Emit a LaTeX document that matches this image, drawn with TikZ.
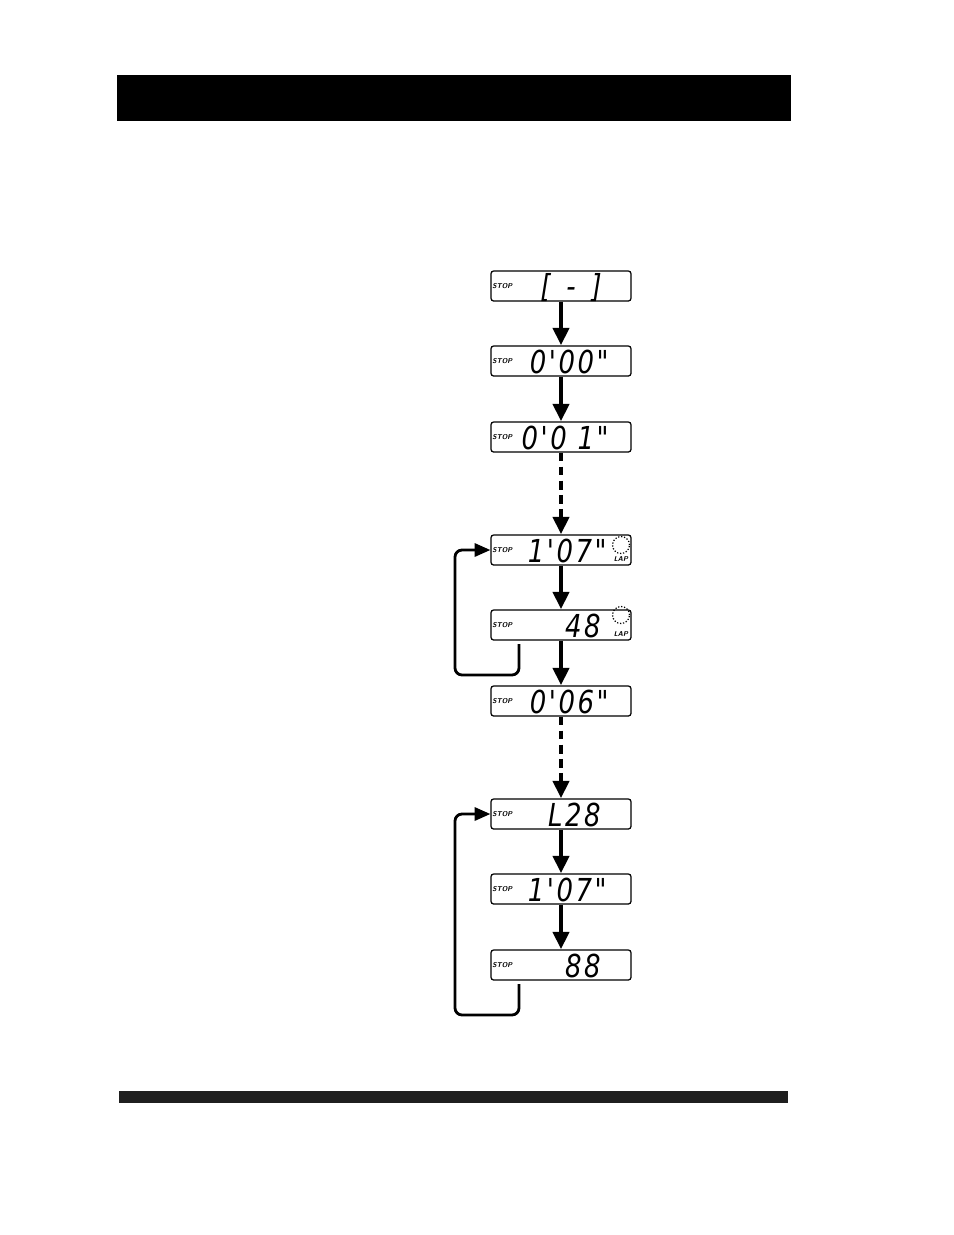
\documentclass[tikz,border=0pt]{standalone}
\usepackage{fontspec}
\newfontfamily\lcdfont[FakeStretch=0.82,LetterSpace=8]{DejaVu Sans}
\usetikzlibrary{arrows.meta,positioning}

\tikzset{
  lcd/.style={draw, line width=0.7pt, rounded corners=1.5pt, minimum width=2.8cm, minimum height=0.6cm, inner sep=0pt},
  digits/.style={font=\lcdfont\fontsize{18}{18}\selectfont\slshape, inner sep=0pt, anchor=base east},
  stoplbl/.style={font=\fontsize{4}{4}\selectfont\bfseries\itshape\sffamily, inner sep=0pt},
  flow/.style={line width=2.6pt, -{Triangle[length=10pt,width=9pt]}},
  skip/.style={flow, dash pattern=on 5pt off 3pt},
  loop/.style={line width=1.6pt, rounded corners=4pt, -{Triangle[length=9pt,width=7.5pt]}}
}

\begin{document}
\begin{tikzpicture}[x=0.02cm, y=-0.02cm]

        \useasboundingbox (0,0) rectangle (954,1235);

        % bars
        \fill (117,75) rectangle (791,121);
        \fill[black!88] (119,1091) rectangle (788,1103);

        \begin{scope}[every node/.style={lcd}]
          \node (d1) at (561,286) {};
          \node (d2) at (561,361) {};
          \node (d3) at (561,437) {};
          \node (d4) at (561,550) {};
          \node (d5) at (561,625) {};
          \node (d6) at (561,701) {};
          \node (d7) at (561,814) {};
          \node (d8) at (561,889) {};
          \node (d9) at (561,965) {};
        \end{scope}

        \foreach \d in {d1,d2,d3,d4,d5,d6,d7,d8,d9}
          \node[stoplbl] at ([xshift=0.24cm]\d.west) {STOP};

        \node[digits] at (602,297) {[\enspace-\enspace]};
        \node[digits] at (609,373) {0'00"};
        \node[digits] at (609,449) {0'0 1"};
        \node[digits] at (607,562) {1'07"};
        \node[digits] at (601,637) {48};
        \node[digits] at (609,713) {0'06"};
        \node[digits] at (601,826) {L28};
        \node[digits] at (607,901) {1'07"};
        \node[digits] at (601,977) {88};

        % lap marks
        \draw[densely dotted, line width=0.7pt] (621,545) circle (0.17cm);
        \draw[densely dotted, line width=0.7pt] (621,615) circle (0.17cm);
        \node[stoplbl] at (621,559) {LAP};
        \node[stoplbl] at (621,634) {LAP};

        \draw[flow] (d1) -- (d2);
        \draw[flow] (d2) -- (d3);
        \draw[skip] (d3) -- (d4);
        \draw[flow] (d4) -- (d5);
        \draw[flow] (d5) -- (d6);
        \draw[skip] (d6) -- (d7);
        \draw[flow] (d7) -- (d8);
        \draw[flow] (d8) -- (d9);

        \coordinate (c1) at (455,675);
        \coordinate (c2) at (455,1015);
        \draw[loop] ([xshift=-0.84cm,yshift=-2pt]d5.south) |- (c1) |- (d4.west);
        \draw[loop] ([xshift=-0.84cm,yshift=-2pt]d9.south) |- (c2) |- (d7.west);

      \end{tikzpicture}
\end{document}
